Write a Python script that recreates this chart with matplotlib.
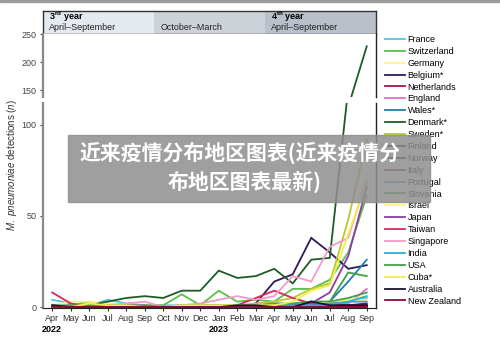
import matplotlib
matplotlib.use("Agg")
import matplotlib.pyplot as plt
from matplotlib.patches import Rectangle

plt.rcParams["font.family"] = ["Liberation Sans", "DejaVu Sans"]
plt.rcParams["mathtext.fontset"] = "custom"
plt.rcParams["mathtext.rm"] = "Liberation Sans"
plt.rcParams["mathtext.it"] = "Liberation Sans:italic"
plt.rcParams["mathtext.bf"] = "Liberation Sans:bold"

months = ["Apr", "May", "Jun", "Jul", "Aug", "Sep", "Oct", "Nov", "Dec",
          "Jan", "Feb", "Mar", "Apr", "May", "Jun", "Jul", "Aug", "Sep"]

countries = ["France", "Switzerland", "Germany", "Belgium*", "Netherlands", "England",
             "Wales*", "Denmark*", "Sweden*", "Finland", "Norway", "Italy", "Portugal",
             "Slovenia", "Israel", "Japan", "Taiwan", "Singapore", "India", "USA",
             "Cuba*", "Australia", "New Zealand"]

colors = ["#56c3e0", "#5bbf4a", "#fff48a", "#2e1a5c", "#9e1550", "#e070c8",
          "#1f7fb0", "#1e5c24", "#b9c832", "#111111", "#2a0d1c", "#6b1d3f", "#5b8fb8",
          "#3da045", "#fff57a", "#8a3ea8", "#e0245e", "#f29ac8", "#22b5d3", "#46a047",
          "#f0f048", "#1b1233", "#8a0a30"]

france      = [4, 2, 1, 4, 2, 1, 1, 1, 1, 1, 1, 1, 2, 2, 3, 3, 4, 5]
switzerland = [0, 1, 3, 0, 1, 1, 1, 7, 1, 9, 3, 4, 3, 10, 10, 15, 30, 61]
germany     = [1, 3, 3, 2, 1, 1, 0, 1, 1, 1, 1, 1, 1, 1, 2, 2, 3, 4]
belgium     = [0, 0, 0, 0, 0, 0, 0, 0, 0, 0, 0, 2, 14, 18, 38, 30, 21, 23]
netherlands = [1, 0, 0, 0, 0, 0, 0, 0, 0, 0, 0, 0, 0, 0, 0, 0, 0, 1]
england     = [0, 0, 0, 0, 1, 1, 0, 1, 1, 1, 1, 1, 1, 1, 1, 1, 2, 10]
wales       = [0, 0, 0, 1, 1, 0, 0, 0, 0, 0, 0, 0, 1, 1, 2, 3, 14, 26]
denmark     = [0, 0, 1, 3, 5, 6, 5, 9, 9, 20, 16, 17, 21, 13, 26, 27, 120, 228]
sweden      = [0, 0, 0, 0, 0, 0, 0, 0, 1, 1, 1, 2, 3, 5, 10, 13, 48, 92]
finland     = [0, 0, 0, 0, 0, 0, 0, 0, 0, 0, 0, 0, 0, 1, 3, 1, 1, 1]
norway      = [0, 0, 0, 0, 0, 0, 0, 0, 0, 0, 0, 0, 0, 0, 1, 0, 0, 0]
italy       = [0, 0, 0, 0, 0, 0, 0, 0, 0, 0, 0, 0, 0, 0, 1, 1, 1, 2]
portugal    = [0, 0, 0, 0, 0, 0, 0, 0, 0, 0, 0, 0, 0, 0, 1, 2, 3, 3]
slovenia    = [0, 0, 0, 0, 0, 0, 0, 0, 0, 0, 0, 0, 0, 1, 2, 3, 19, 17]
israel      = [0, 0, 0, 0, 0, 0, 0, 0, 0, 1, 1, 1, 2, 2, 2, 3, 4, 6]
japan       = [0, 0, 0, 0, 0, 0, 0, 0, 0, 0, 0, 0, 0, 1, 2, 8, 28, 66]
taiwan      = [8, 2, 0, 0, 0, 0, 0, 0, 0, 0, 1, 5, 9, 5, 2, 0, 0, 0]
singapore   = [0, 0, 1, 1, 2, 3, 0, 1, 2, 4, 6, 4, 6, 17, 14, 33, 38, 70]
india       = [0, 0, 0, 0, 0, 0, 0, 0, 0, 0, 0, 0, 0, 1, 1, 1, 3, 6]
usa         = [1, 1, 1, 1, 1, 1, 0, 1, 1, 1, 1, 1, 2, 2, 3, 3, 5, 8]
cuba        = [0, 0, 2, 1, 1, 0, 0, 1, 1, 1, 1, 1, 1, 3, 9, 12, 40, 68]
australia   = [1, 0, 0, 0, 0, 0, 0, 0, 0, 0, 1, 1, 0, 0, 3, 1, 1, 1]
new_zealand = [0, 0, 0, 0, 0, 0, 0, 0, 0, 0, 0, 0, 0, 0, 0, 0, 0, 0]

series = [france, switzerland, germany, belgium, netherlands, england, wales, denmark,
          sweden, finland, norway, italy, portugal, slovenia, israel, japan, taiwan,
          singapore, india, usa, cuba, australia, new_zealand]

periods = [(-0.5, 5.5, "#e5eaf0", r"3$^{\mathbf{rd}}$ year"),
           (5.5, 11.5, "#cdd2d9", ""),
           (11.5, 17.5, "#b9c0c9", r"4$^{\mathbf{th}}$ year")]
period_sub = ["April–September", "October–March", "April–September"]

W, H = 500, 337
fig = plt.figure(figsize=(W / 100, H / 100), dpi=100)


def frac(x0, y0, x1, y1):
    return [x0 / W, 1 - y1 / H, (x1 - x0) / W, (y1 - y0) / H]


ax_head = fig.add_axes(frac(43, 11, 376, 34))
ax_top = fig.add_axes(frac(43, 34, 376, 97))
ax_low = fig.add_axes(frac(43, 103, 376, 308))

x = list(range(len(months)))
for ax in (ax_top, ax_low):
    for name, col, vals in zip(countries, colors, series):
        ax.plot(x, vals, color=col, lw=1.3, label=name, solid_joinstyle="miter")
    ax.set_xlim(-0.5, 17.5)
    ax.spines["top"].set_visible(False)
    ax.spines["left"].set_color("#8a8a8a")
    ax.spines["left"].set_linewidth(1.6)
    ax.spines["right"].set_color("#222222")
    ax.spines["right"].set_linewidth(1.0)
    ax.tick_params(axis="y", labelsize=6.5, colors="#444444", length=2.5, width=0.8, pad=2)

ax_top.set_ylim(137.5, 250)
ax_top.set_yticks([150, 200, 250])
ax_top.spines["bottom"].set_visible(False)
ax_top.set_xticks([])

ax_low.set_ylim(-0.5, 112)
ax_low.set_yticks([0, 50, 100])
ax_low.set_xticks(x)
ax_low.set_xticklabels(months)
ax_low.spines["bottom"].set_color("#222222")
ax_low.tick_params(axis="x", labelsize=6.5, colors="#333333", length=2.5, width=0.8, pad=2)
for xi, yr in [(0, "2022"), (9, "2023")]:
    ax_low.text(xi, -0.107, yr, transform=ax_low.get_xaxis_transform(), ha="center",
                va="center", fontsize=6.5, fontweight="bold")

ax_head.set_xlim(-0.5, 17.5)
ax_head.set_ylim(0, 1)
ax_head.set_xticks([])
ax_head.set_yticks([])
for s in ax_head.spines.values():
    s.set_color("#333333")
    s.set_linewidth(1.0)
for (a, b, c, top_txt), sub in zip(periods, period_sub):
    ax_head.add_patch(Rectangle((a, 0), b - a, 1, color=c, lw=0))
    ax_head.text(a + 0.35, 0.74, top_txt, fontsize=6.5, fontweight="bold", va="center")
    ax_head.text(a + 0.35, 0.27, sub, fontsize=6.5, va="center", color="#222222")

fig.text(0.024, 1 - 165 / H, r"$\it{M.\ pneumoniae}$ detections ($\it{n}$)", rotation=90,
         ha="center", va="center", fontsize=7, color="#333333")

handles, labels = ax_low.get_legend_handles_labels()
fig.legend(handles, labels, loc="upper left", bbox_to_anchor=(385 / W, 1 - 35 / H),
           frameon=False, fontsize=6.5, handlelength=2.2, handletextpad=0.3,
           labelspacing=0.32, borderaxespad=0, borderpad=0)

# grey banner over the chart
fig.patches.append(Rectangle((68 / W, 1 - 202 / H), (430 - 68) / W, 67 / H,
                             transform=fig.transFigure, color="#8e8e8e", alpha=0.85,
                             zorder=10))
cjk = ["Noto Sans CJK SC", "DejaVu Sans"]
fig.text(240 / W, 1 - 153 / H, "近来疫情分布地区图表(近来疫情分", ha="center", va="center",
         fontsize=15, fontweight="bold", color="white", family=cjk, zorder=11)
fig.text(245 / W, 1 - 182 / H, "布地区图表最新)", ha="center", va="center",
         fontsize=15, fontweight="bold", color="white", family=cjk, zorder=11)

fig.patches.append(Rectangle((0, 1 - 2 / H), 1, 2 / H, transform=fig.transFigure,
                             color="#9a9a9a", zorder=12))

fig.savefig("out.png", dpi=100)
